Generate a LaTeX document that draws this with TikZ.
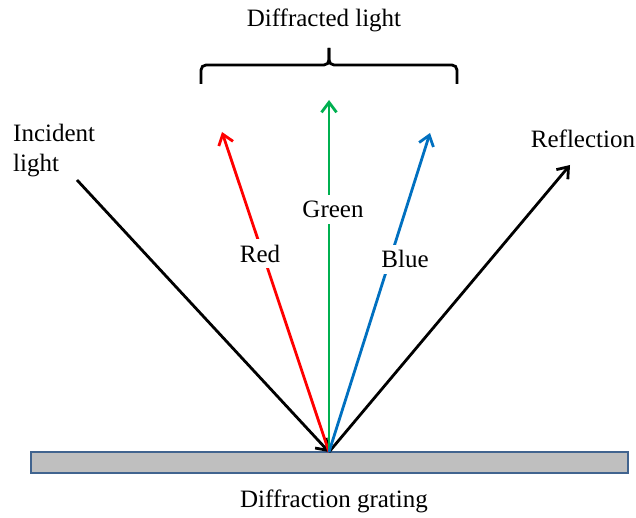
\documentclass[tikz,border=0pt]{standalone}
\usepackage{fontspec}
\setmainfont{Liberation Serif}
\usepackage{xcolor}
\usetikzlibrary{arrows.meta}

\definecolor{rayred}{HTML}{FF0000}
\definecolor{raygreen}{HTML}{00B050}
\definecolor{rayblue}{HTML}{0070C0}
\definecolor{gratefill}{HTML}{BFBFBF}
\definecolor{grateline}{HTML}{41648F}

\begin{document}
\begin{tikzpicture}[
  x=1pt, y=-1pt,
  every node/.style={font=\fontsize{25}{30}\selectfont},
  grating/.style={draw=grateline, line width=2.4pt, fill=gratefill, minimum width=597pt, minimum height=21pt, inner sep=0pt},
  lbl/.style={fill=white, inner sep=6pt, anchor=base},
  ray/.style={-{Straight Barb[length=10pt,width=15pt]}, line width=2.8pt},
  brc/.style={line width=2.8pt, rounded corners=5pt}
]
\useasboundingbox (0,0) rectangle (636,518);

\node[grating] (grating) at (329.5,462.5) {};
\coordinate (hit) at (329,452);
\coordinate (src) at (77,180);
\coordinate (refl) at (570,165);
\coordinate (redtip) at (222,132);
\coordinate (greentip) at (329,100);
\coordinate (bluetip) at (430,133);

\draw[ray] (src) -- (hit);
\draw[ray] (hit) -- (refl);
\draw[ray, rayred] (hit) -- (redtip);
\draw[ray, raygreen] (hit) -- (greentip);
\draw[ray, rayblue] (hit) -- (bluetip);

% brace over the diffracted orders
\draw[brc] (201,84) -- (201,65) -- (329,65) -- (329,48);
\draw[brc] (329,48) -- (329,65) -- (457,65) -- (457,84);

\node[lbl] (red) at (260,262) {Red};
\node[lbl] (green) at (333,218) {Green};
\node[lbl] (blue) at (405,268) {Blue};
\node[lbl, fill=none] (difflbl) at (324,27) {Diffracted light};
\node[lbl, fill=none, anchor=base west, align=left, inner sep=0pt] (inclbl) at (13,172) {Incident\\light};
\node[lbl, fill=none] (refllbl) at (583,148) {Reflection};
\node[lbl, fill=none] (gratelbl) at (334,507) {Diffraction grating};
\end{tikzpicture}
\end{document}
